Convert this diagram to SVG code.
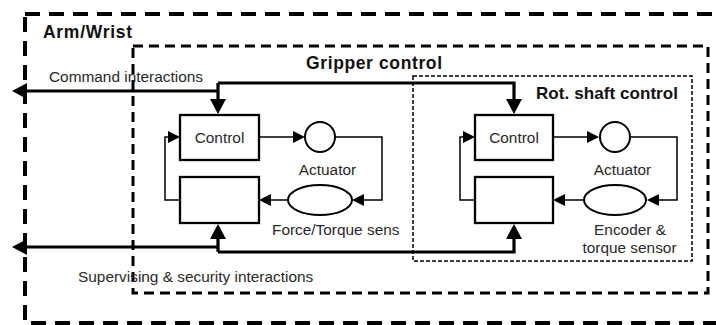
<svg xmlns="http://www.w3.org/2000/svg" width="716" height="325" viewBox="0 0 716 325">
<defs>
<style>
.t{font-family:"Liberation Sans",Arial,sans-serif;font-size:15.4px;fill:#2a2a2a}
.b{font-family:"Liberation Sans",Arial,sans-serif;font-weight:bold;fill:#111}
.box{fill:#fff;stroke:#000;stroke-width:2.3}
.shape{fill:#fff;stroke:#000;stroke-width:2}
.thick{fill:none;stroke:#000;stroke-width:3.2}
.thin{fill:none;stroke:#000;stroke-width:1.5}
</style>
<marker id="big" markerUnits="userSpaceOnUse" markerWidth="15" markerHeight="16" refX="0" refY="8" orient="auto">
<path d="M0,0 L15,8 L0,16 z" fill="#000"/>
</marker>
<marker id="sm" markerUnits="userSpaceOnUse" markerWidth="12" markerHeight="12" refX="0" refY="6" orient="auto">
<path d="M0,0 L12,6 L0,12 z" fill="#000"/>
</marker>
</defs>
<rect width="716" height="325" fill="#fff"/>

<g id="arm-wrist">
<rect x="25" y="14" width="720" height="309" fill="none" stroke="#000" stroke-width="4" stroke-dasharray="15 9"/>
<text class="b" x="43" y="38" font-size="17.5" textLength="89">Arm/Wrist</text>
</g>

<g id="gripper-control">
<rect x="133" y="46" width="575" height="247" fill="none" stroke="#000" stroke-width="3" stroke-dasharray="10 6"/>
<text class="b" x="306" y="69" font-size="17.5" textLength="136">Gripper control</text>
</g>

<g id="rot-shaft-control">
<rect x="413" y="76" width="279" height="185" fill="none" stroke="#000" stroke-width="1.5" stroke-dasharray="4 2"/>
<text class="b" x="536" y="99" font-size="17" textLength="142">Rot. shaft control</text>
</g>

<g id="connectors">
<path class="thick" d="M218,83 L514,83 L514,99" marker-end="url(#big)"/>
<path class="thick" d="M218,83 L218,99" marker-end="url(#big)"/>
<path class="thick" d="M218,91 L27,91" marker-end="url(#big)"/>
<path class="thick" d="M218,252 L514,252 L514,239" marker-end="url(#big)"/>
<path class="thick" d="M218,252 L218,239" marker-end="url(#big)"/>
<path class="thick" d="M218,247 L27,247" marker-end="url(#big)"/>

<path class="thin" d="M259,137 L293,137" marker-end="url(#sm)"/>
<path class="thin" d="M335,137 L382,137 L382,200 L364,200" marker-end="url(#sm)"/>
<path class="thin" d="M288,200 L271,200" marker-end="url(#sm)"/>
<path class="thin" d="M180,200 L165,200 L165,137 L168,137" marker-end="url(#sm)"/>

<path class="thin" d="M553,137 L587,137" marker-end="url(#sm)"/>
<path class="thin" d="M631,137 L677,137 L677,200 L659,200" marker-end="url(#sm)"/>
<path class="thin" d="M584,200 L565,200" marker-end="url(#sm)"/>
<path class="thin" d="M475,200 L460,200 L460,137 L463,137" marker-end="url(#sm)"/>
</g>

<g id="command-label"><text class="t" x="49" y="82">Command interactions</text></g>
<g id="supervising-label"><text class="t" x="78" y="282">Supervising &amp; security interactions</text></g>

<g id="control-1">
<rect class="box" x="180" y="115" width="79" height="45"/>
<text class="t" x="219.5" y="143" text-anchor="middle">Control</text>
</g>
<g id="sensor-proc-1">
<rect class="box" x="180" y="177" width="79" height="46"/>
</g>
<g id="actuator-1">
<circle class="shape" cx="320" cy="137" r="15"/>
<text class="t" x="327.5" y="175" text-anchor="middle">Actuator</text>
</g>
<g id="sensor-1">
<ellipse class="shape" cx="320" cy="200" rx="32" ry="15"/>
<text class="t" x="272" y="235">Force/Torque sens</text>
</g>

<g id="control-2">
<rect class="box" x="475" y="115" width="78" height="45"/>
<text class="t" x="514" y="143" text-anchor="middle">Control</text>
</g>
<g id="sensor-proc-2">
<rect class="box" x="475" y="177" width="78" height="46"/>
</g>
<g id="actuator-2">
<circle class="shape" cx="615" cy="137" r="15"/>
<text class="t" x="622.5" y="175" text-anchor="middle">Actuator</text>
</g>
<g id="sensor-2">
<ellipse class="shape" cx="615" cy="200" rx="31" ry="15"/>
<text class="t" x="630" y="235" text-anchor="middle">Encoder &amp;</text>
<text class="t" x="629.5" y="253" text-anchor="middle">torque sensor</text>
</g>
</svg>
